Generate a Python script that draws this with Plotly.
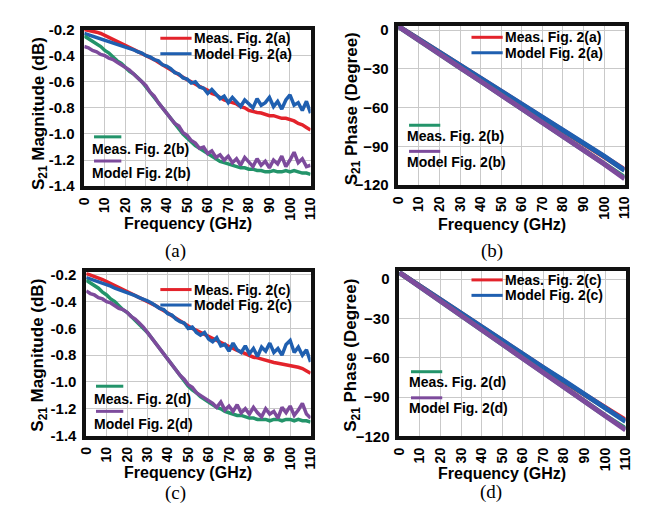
import plotly.graph_objects as go
from plotly.subplots import make_subplots

# ---------------- data ----------------
freq = list(range(0, 112, 2))  # GHz, 2 GHz step
freq_phase = list(range(0, 120, 10))
x_ticks = list(range(0, 120, 10))

mag_meas_a = [-0.20, -0.205, -0.21, -0.22, -0.23, -0.245, -0.26, -0.275, -0.29, -0.305,
              -0.32, -0.335, -0.35, -0.365, -0.38, -0.395, -0.41, -0.43, -0.45, -0.47,
              -0.49, -0.51, -0.53, -0.55, -0.57, -0.585, -0.60, -0.62, -0.635, -0.65,
              -0.665, -0.69, -0.70, -0.72, -0.74, -0.75, -0.76, -0.77, -0.79, -0.80,
              -0.82, -0.83, -0.835, -0.84, -0.85, -0.86, -0.86, -0.87, -0.88, -0.88,
              -0.89, -0.90, -0.92, -0.93, -0.95, -0.97]
mag_model_a = [-0.23, -0.24, -0.25, -0.26, -0.27, -0.28, -0.29, -0.30, -0.31, -0.32,
               -0.33, -0.345, -0.355, -0.37, -0.38, -0.40, -0.41, -0.43, -0.44, -0.47,
               -0.48, -0.50, -0.53, -0.54, -0.57, -0.58, -0.61, -0.60, -0.64, -0.65,
               -0.69, -0.66, -0.70, -0.73, -0.71, -0.76, -0.72, -0.76, -0.79, -0.74,
               -0.77, -0.80, -0.73, -0.78, -0.76, -0.72, -0.79, -0.75, -0.81, -0.74,
               -0.70, -0.78, -0.76, -0.82, -0.75, -0.84]
mag_meas_b = [-0.25, -0.27, -0.29, -0.31, -0.33, -0.36, -0.38, -0.41, -0.44, -0.46,
              -0.49, -0.52, -0.54, -0.57, -0.60, -0.64, -0.68, -0.72, -0.77, -0.81,
              -0.85, -0.89, -0.93, -0.96, -1.00, -1.03, -1.06, -1.09, -1.11, -1.13,
              -1.15, -1.17, -1.19, -1.21, -1.22, -1.23, -1.24, -1.25, -1.26, -1.26,
              -1.27, -1.27, -1.28, -1.28, -1.29, -1.29, -1.28, -1.29, -1.29, -1.28,
              -1.29, -1.28, -1.29, -1.30, -1.30, -1.31]
mag_model_b = [-0.33, -0.34, -0.36, -0.37, -0.39, -0.40, -0.42, -0.43, -0.45, -0.47,
               -0.49, -0.51, -0.54, -0.57, -0.60, -0.63, -0.68, -0.71, -0.76, -0.80,
               -0.84, -0.87, -0.92, -0.94, -0.99, -1.01, -1.05, -1.07, -1.11, -1.10,
               -1.15, -1.13, -1.18, -1.16, -1.20, -1.17, -1.22, -1.19, -1.24, -1.18,
               -1.22, -1.25, -1.19, -1.24, -1.21, -1.26, -1.20, -1.23, -1.17, -1.25,
               -1.20, -1.14, -1.22, -1.19, -1.25, -1.24]

mag_meas_c = [-0.19, -0.20, -0.21, -0.22, -0.235, -0.25, -0.265, -0.28, -0.295, -0.31,
              -0.32, -0.335, -0.35, -0.365, -0.38, -0.395, -0.41, -0.43, -0.45, -0.465,
              -0.485, -0.505, -0.525, -0.545, -0.56, -0.58, -0.60, -0.615, -0.63, -0.645,
              -0.66, -0.68, -0.695, -0.71, -0.725, -0.74, -0.75, -0.765, -0.775, -0.79,
              -0.80, -0.815, -0.82, -0.83, -0.84, -0.85, -0.855, -0.86, -0.865, -0.875,
              -0.88, -0.885, -0.89, -0.90, -0.915, -0.935]
mag_model_c = [-0.22, -0.23, -0.24, -0.255, -0.265, -0.275, -0.285, -0.30, -0.31, -0.32,
               -0.33, -0.345, -0.355, -0.37, -0.38, -0.395, -0.41, -0.43, -0.45, -0.46,
               -0.49, -0.50, -0.53, -0.55, -0.56, -0.60, -0.59, -0.63, -0.65, -0.63,
               -0.68, -0.70, -0.67, -0.73, -0.72, -0.77, -0.71, -0.76, -0.78, -0.73,
               -0.79, -0.75, -0.81, -0.74, -0.77, -0.71, -0.78, -0.75, -0.80, -0.72,
               -0.69, -0.78, -0.74, -0.80, -0.76, -0.85]
mag_meas_d = [-0.24, -0.26, -0.28, -0.30, -0.33, -0.35, -0.38, -0.40, -0.43, -0.46,
              -0.48, -0.51, -0.54, -0.57, -0.60, -0.63, -0.67, -0.71, -0.76, -0.80,
              -0.84, -0.88, -0.92, -0.96, -0.99, -1.03, -1.06, -1.08, -1.11, -1.13,
              -1.15, -1.17, -1.19, -1.20, -1.22, -1.23, -1.24, -1.25, -1.25, -1.26,
              -1.27, -1.27, -1.28, -1.28, -1.28, -1.29, -1.28, -1.28, -1.29, -1.28,
              -1.28, -1.29, -1.28, -1.29, -1.29, -1.30]
mag_model_d = [-0.32, -0.34, -0.35, -0.37, -0.38, -0.40, -0.41, -0.43, -0.45, -0.46,
               -0.48, -0.51, -0.53, -0.56, -0.59, -0.63, -0.67, -0.71, -0.75, -0.79,
               -0.83, -0.88, -0.91, -0.95, -0.98, -1.02, -1.04, -1.08, -1.10, -1.12,
               -1.14, -1.16, -1.19, -1.15, -1.21, -1.18, -1.22, -1.17, -1.23, -1.20,
               -1.24, -1.19, -1.23, -1.26, -1.20, -1.24, -1.22, -1.27, -1.19, -1.23,
               -1.18, -1.25, -1.21, -1.16, -1.24, -1.27]

phase_meas_a = [3, -7, -17, -27.5, -37.5, -47.5, -57.5, -67.5, -77.5, -87.5, -97.5, -108]
phase_model_a = [3, -7, -17, -27, -37, -47, -57, -67, -77, -87, -97.5, -108.5]
phase_meas_b = [3, -8, -18.5, -29, -39.5, -50, -60.5, -71, -81.5, -92, -103, -114]
phase_model_b = [3, -8, -18.5, -29, -39.5, -50, -60.5, -71, -82, -92.5, -103.5, -115]
phase_meas_c = [5, -5.5, -16, -26.5, -37, -47.5, -58, -68, -78, -88, -98, -107.5]
phase_model_c = [5, -5.5, -16, -26.5, -36.5, -47, -57.5, -67.5, -77.5, -87.5, -98, -108.5]
phase_meas_d = [5, -6, -17, -28, -39, -50, -61, -72, -82.5, -93, -104, -114]
phase_model_d = [5, -6, -17, -28, -39, -50, -61, -72, -83, -93.5, -104.5, -115]

mag_ticks = [-1.4, -1.2, -1.0, -0.8, -0.6, -0.4, -0.2]
mag_ticktext = ["-1.4", "-1.2", "-1.0", "-0.8", "-0.6", "-0.4", "-0.2"]
phase_ticks = [-120, -90, -60, -30, 0]

RED = "#e3232b"
BLUE = "#1f5fb0"
GREEN = "#23946a"
PURPLE = "#7d4b9c"

W, H = 649, 508

def px(x):
    return x / W

def py(y):
    return 1 - y / H

fig = make_subplots(rows=2, cols=2)

panels = [
    (1, 1, [(freq, mag_meas_a, RED), (freq, mag_model_a, BLUE),
            (freq, mag_meas_b, GREEN), (freq, mag_model_b, PURPLE)], 3.5),
    (1, 2, [(freq_phase, phase_meas_a, RED), (freq_phase, phase_model_a, BLUE),
            (freq_phase, phase_meas_b, GREEN), (freq_phase, phase_model_b, PURPLE)], 5),
    (2, 1, [(freq, mag_meas_c, RED), (freq, mag_model_c, BLUE),
            (freq, mag_meas_d, GREEN), (freq, mag_model_d, PURPLE)], 3.5),
    (2, 2, [(freq_phase, phase_meas_c, RED), (freq_phase, phase_model_c, BLUE),
            (freq_phase, phase_meas_d, GREEN), (freq_phase, phase_model_d, PURPLE)], 5),
]
for r, c, series, lw in panels:
    for xs, ys, col in series:
        fig.add_trace(go.Scatter(x=xs, y=ys, mode="lines", line=dict(color=col, width=lw),
                                 showlegend=False, hoverinfo="skip"), row=r, col=c)

boxes = {
    (1, 1): (70, 302, 13, 175),
    (1, 2): (392, 624, 9, 174),
    (2, 1): (72, 302, 264, 433),
    (2, 2): (393, 625, 263, 434),
}
yranges = {
    (1, 1): [-1.4, -0.2],
    (1, 2): [-120, 3.5],
    (2, 1): [-1.4, -0.18],
    (2, 2): [-120, 6],
}

axfont = dict(family="Liberation Sans, Arial", size=14, color="black", weight="bold")
common = dict(showgrid=True, gridcolor="#c9c9c9", gridwidth=1, showline=True, linecolor="#111111",
              linewidth=3.5, mirror=True, ticks="", zeroline=False)

for (r, c), (l, rr, t, b) in boxes.items():
    fig.update_xaxes(domain=[px(l), px(rr)], range=[0, 110], tickvals=x_ticks, tickangle=-90,
                     tickfont=axfont, ticklabelstandoff=2, row=r, col=c, **common)
    if c == 1:
        fig.update_yaxes(domain=[py(b), py(t)], range=yranges[(r, c)], tickvals=mag_ticks,
                         ticktext=mag_ticktext, tickfont=dict(axfont, size=15),
                         ticklabelstandoff=3, row=r, col=c, **common)
    else:
        fig.update_yaxes(domain=[py(b), py(t)], range=yranges[(r, c)], tickvals=phase_ticks,
                         tickfont=dict(axfont, size=15), ticklabelstandoff=3,
                         row=r, col=c, **common)

annotations = []
shapes = []

def text(x, y, s, size=14, anchor="left", angle=0, family="Liberation Sans, Arial",
         weight="bold"):
    annotations.append(dict(x=px(x), y=py(y), xref="paper", yref="paper", text=s,
                            showarrow=False, xanchor=anchor, yanchor="middle",
                            textangle=angle, borderpad=0,
                            font=dict(family=family, size=size, color="black", weight=weight)))

def keyline(x0, x1, y, color):
    shapes.append(dict(type="line", xref="paper", yref="paper", x0=px(x0), x1=px(x1),
                       y0=py(y), y1=py(y), line=dict(color=color, width=3)))

# axis titles
text(24, 100, "S<sub>21</sub> Magnitude (dB)", size=17, anchor="center", angle=-90)
text(345, 95, "S<sub>21</sub> Phase (Degree)", size=17, anchor="center", angle=-90)
text(24, 350, "S<sub>21</sub> Magnitude (dB)", size=17, anchor="center", angle=-90)
text(345, 350, "S<sub>21</sub> Phase (Degree)", size=17, anchor="center", angle=-90)
text(176, 214, "Frequency (GHz)", size=16, anchor="center")
text(498, 215, "Frequency (GHz)", size=16, anchor="center")
text(176, 471, "Frequency (GHz)", size=16, anchor="center")
text(498, 472, "Frequency (GHz)", size=16, anchor="center")

# captions
serif = "Liberation Serif, Times New Roman"
text(164, 242, "(a)", size=19, anchor="center", family=serif, weight="normal")
text(488, 242, "(b)", size=19, anchor="center", family=serif, weight="normal")
text(164, 492, "(c)", size=19, anchor="center", family=serif, weight="normal")
text(487, 491, "(d)", size=19, anchor="center", family=serif, weight="normal")

# legends (upper right)
legends = [
    (148, 180, 181, 22, 38, "Meas. Fig. 2(a)", "Model Fig. 2(a)"),
    (467, 499, 500, 21, 37, "Meas. Fig. 2(a)", "Model Fig. 2(a)"),
    (148, 180, 181, 282, 298, "Meas. Fig. 2(c)", "Model Fig. 2(c)"),
    (467, 499, 500, 272, 288, "Meas. Fig. 2(c)", "Model Fig. 2(c)"),
]
for k0, k1, tx, y1, y2, l1, l2 in legends:
    keyline(k0, k1, y1, RED)
    keyline(k0, k1, y2, BLUE)
    text(tx, y1, l1)
    text(tx, y2, l2)

# legends (lower left)
low_legends = [
    (80, 108, 77, 124, 137, 149, 161, "Meas. Fig. 2(b)", "Model Fig. 2(b)"),
    (403, 435, 400, 112, 123, 139, 150, "Meas. Fig. 2(b)", "Model Fig. 2(b)"),
    (82, 110, 79, 382, 395, 408, 421, "Meas. Fig. 2(d)", "Model Fig. 2(d)"),
    (405, 437, 402, 367, 378, 394, 405, "Meas. Fig. 2(d)", "Model Fig. 2(d)"),
]
for k0, k1, tx, ky1, ty1, ky2, ty2, l1, l2 in low_legends:
    keyline(k0, k1, ky1, GREEN)
    keyline(k0, k1, ky2, PURPLE)
    text(tx, ty1, l1)
    text(tx, ty2, l2)

fig.update_layout(width=W, height=H, autosize=False, margin=dict(l=0, r=0, t=0, b=0),
                  paper_bgcolor="white", plot_bgcolor="white", showlegend=False,
                  annotations=annotations, shapes=shapes)

fig.write_html("out.html")
